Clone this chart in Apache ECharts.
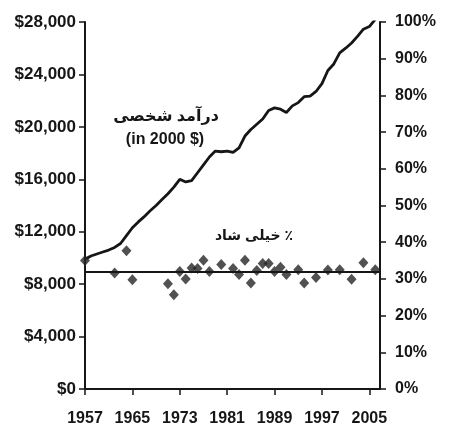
<!DOCTYPE html>
<html>
<head>
<meta charset="utf-8">
<script src="https://cdn.jsdelivr.net/npm/echarts@6/dist/echarts.min.js"></script>
<style>
  html, body { margin: 0; padding: 0; background: #fff; }
  #chart { width: 450px; height: 433px; }
</style>
</head>
<body>
<div id="chart"></div>
<script>
// income per person, 2000 dollars
const incomeYears = [
  1957, 1958, 1959, 1960, 1961, 1962, 1963, 1964, 1965, 1966,
  1967, 1968, 1969, 1970, 1971, 1972, 1973, 1974, 1975, 1976,
  1977, 1978, 1979, 1980, 1981, 1982, 1983, 1984, 1985, 1986,
  1987, 1988, 1989, 1990, 1991, 1992, 1993, 1994, 1995, 1996,
  1997, 1998, 1999, 2000, 2001, 2002, 2003, 2004, 2005, 2006
]
const incomeValues = [
  9900, 10150, 10300, 10450, 10600, 10800, 11100, 11700, 12300, 12750,
  13150, 13600, 14000, 14450, 14900, 15400, 16000, 15800, 15900, 16500,
  17100, 17700, 18150, 18100, 18150, 18050, 18400, 19300, 19800, 20200,
  20600, 21250, 21450, 21350, 21100, 21600, 21850, 22300, 22350, 22700,
  23300, 24300, 24800, 25650, 26000, 26400, 26900, 27450, 27650, 28200
]

// % very happy, survey years
const happyYears = [
  1957, 1962, 1964, 1965, 1971, 1972, 1973, 1974, 1975, 1976,
  1977, 1978, 1980, 1982, 1983, 1984, 1985, 1986, 1987, 1988,
  1989, 1990, 1991, 1993, 1994, 1996, 1998, 2000, 2002, 2004, 2006
]
const happyPct = [
  35.0, 31.6, 37.7, 29.8, 28.7, 25.7, 32.0, 30.0, 33.0, 32.8,
  35.1, 32.0, 33.9, 32.8, 31.2, 35.1, 28.9, 32.3, 34.2, 34.2,
  32.0, 33.2, 31.2, 32.5, 28.9, 30.4, 32.4, 32.5, 29.9, 34.4, 32.5
]
const happyMean = 32

const incomeLabel = 'درآمد شخصی'
const incomeNote = '(in 2000 $)'
const happyLabel = 'خیلی شاد ٪'

const font = '"Liberation Sans", Arial, "DejaVu Sans", sans-serif'
const ink = '#161616'

const chart = echarts.init(document.getElementById('chart'))

const axisCommon = {
  axisLine: { show: true, lineStyle: { color: ink, width: 2 } },
  axisTick: { show: true, inside: false, length: 6, lineStyle: { color: ink, width: 1.5 } },
  splitLine: { show: false },
  axisLabel: { color: ink, fontSize: 16, fontWeight: 'bold', fontFamily: font },
}

chart.setOption({
  animation: false,
  backgroundColor: '#fff',
  grid: { left: 85, right: 70, top: 22, bottom: 44 },
  xAxis: {
    type: 'value',
    min: 1957,
    max: 2006.8,
    interval: 8,
    ...axisCommon,
    axisLabel: {
      ...axisCommon.axisLabel,
      margin: 22,
      showMaxLabel: false,
      formatter: v => ((v - 1957) % 8 === 0 ? String(v) : ''),
    },
  },
  yAxis: [
    {
      type: 'value',
      min: 0,
      max: 28000,
      interval: 4000,
      ...axisCommon,
      axisLabel: {
        ...axisCommon.axisLabel,
        fontSize: 17,
        margin: 9,
        formatter: v => '$' + v.toLocaleString('en-US'),
      },
    },
    {
      type: 'value',
      position: 'right',
      min: 0,
      max: 100,
      interval: 10,
      ...axisCommon,
      axisLabel: { ...axisCommon.axisLabel, margin: 15, formatter: '{value}%' },
    },
  ],
  series: [
    {
      type: 'line',
      yAxisIndex: 0,
      data: incomeYears.map((y, i) => [y, incomeValues[i]]),
      showSymbol: false,
      lineStyle: { color: ink, width: 2.8 },
      z: 3,
    },
    {
      type: 'scatter',
      yAxisIndex: 1,
      data: happyYears.map((y, i) => [y, happyPct[i]]),
      symbol: 'diamond',
      symbolSize: [10, 11],
      itemStyle: { color: '#262626' },
      z: 4,
      markLine: {
        silent: true,
        symbol: ['none', 'none'],
        label: { show: false },
        lineStyle: { color: ink, width: 2, type: 'solid' },
        data: [{ yAxis: happyMean }],
      },
    },
  ],
  graphic: [
    {
      type: 'text', x: 166, y: 117,
      style: { text: incomeLabel, font: `bold 16px ${font}`, fill: ink, align: 'center', verticalAlign: 'middle' },
    },
    {
      type: 'text', x: 165, y: 140,
      style: { text: incomeNote, font: `bold 16px ${font}`, fill: ink, align: 'center', verticalAlign: 'middle' },
    },
    {
      type: 'text', x: 254, y: 236,
      style: { text: happyLabel, font: `bold 14px ${font}`, fill: ink, align: 'center', verticalAlign: 'middle' },
    },
  ],
})
</script>
</body>
</html>
